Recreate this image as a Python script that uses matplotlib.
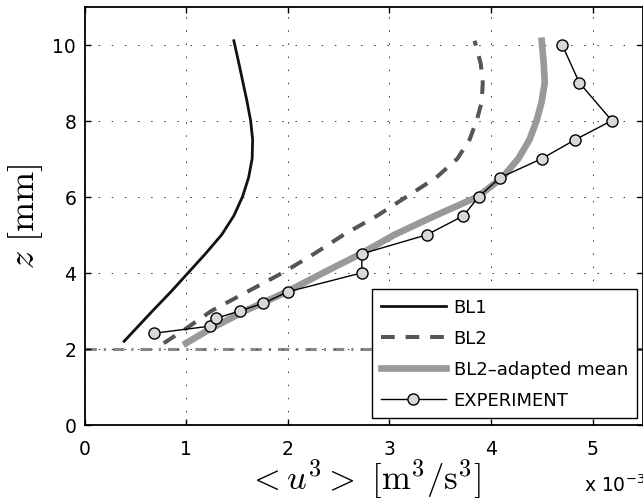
import numpy as np
import matplotlib
matplotlib.use("Agg")
import matplotlib.pyplot as plt

# profiles, x in units of 1e-3 m^3/s^3, z in mm
bl1_z = [2.2, 2.6, 3.0, 3.5, 4.0, 4.5, 5.0, 5.5, 6.0, 6.5, 7.0, 7.5, 8.0, 8.5, 9.0, 9.5, 10.1]
bl1_u = [0.39, 0.53, 0.67, 0.85, 1.02, 1.19, 1.35, 1.47, 1.555, 1.615, 1.65, 1.655, 1.635, 1.60, 1.56, 1.52, 1.47]

bl2_z = [2.15, 2.5, 3.0, 3.5, 4.0, 4.5, 5.0, 5.5, 6.0, 6.5, 7.0, 7.5, 8.0, 8.5, 9.0, 9.5, 10.1]
bl2_u = [0.78, 0.98, 1.25, 1.60, 1.95, 2.26, 2.55, 2.88, 3.17, 3.46, 3.67, 3.79, 3.86, 3.91, 3.92, 3.90, 3.84]

mean_z = [2.15, 2.5, 3.0, 3.5, 4.0, 4.5, 5.0, 5.5, 6.0, 6.5, 7.0, 7.5, 8.0, 8.5, 9.0, 9.5, 10.1]
mean_u = [1.0, 1.22, 1.58, 1.99, 2.35, 2.72, 3.05, 3.45, 3.87, 4.11, 4.27, 4.38, 4.45, 4.50, 4.53, 4.52, 4.50]

exp_z = [2.41, 2.6, 2.8, 3.0, 3.2, 3.5, 4.0, 4.5, 5.0, 5.5, 6.0, 6.5, 7.0, 7.5, 8.0, 9.0, 10.0]
exp_u = [0.68, 1.24, 1.29, 1.53, 1.76, 2.0, 2.73, 2.73, 3.37, 3.73, 3.88, 4.09, 4.5, 4.83, 5.19, 4.87, 4.7]

plt.rcParams['mathtext.fontset'] = 'cm'
plt.rcParams['font.family'] = 'DejaVu Sans'

W, H = 643, 502
fig = plt.figure(figsize=(W / 100, H / 100), dpi=100)
x0, x1 = 84.5, 643.3
y0, y1 = 426, 7.5
ax = fig.add_axes([x0 / W, (H - y0) / H, (x1 - x0) / W, (y0 - y1) / H])
ax.set_xlim(0, 5.5)
ax.set_ylim(0, 11)

ax.axhline(2, color='#888888', lw=2.2, linestyle=(0, (3.7, 2.3, 0.7, 2.3)), zorder=1)
ax.plot(bl1_u, bl1_z, color='#111111', lw=2, label='BL1', zorder=3)
ax.plot(bl2_u, bl2_z, color='#555555', lw=2.9, dashes=(3.4, 2.7), label='BL2', zorder=3)
ax.plot(mean_u, mean_z, color='#999999', lw=4.8, label='BL2\u2013adapted mean', zorder=2)
ax.plot(exp_u, exp_z, color='black', lw=1, marker='o', ms=8, mfc='#d8d8d8', mec='black',
        mew=1, label='EXPERIMENT', zorder=4)

ax.set_xticks(range(6))
ax.set_yticks(range(0, 11, 2))
ax.tick_params(direction='in', top=True, right=True, labelsize=13.5, length=4.3, width=1)
ax.tick_params(axis='x', pad=10)
ax.tick_params(axis='y', pad=6)
ax.grid(True, linestyle=(0, (1.5, 12)), color='#333333', lw=0.7)
for s in ax.spines.values():
    s.set_linewidth(1.3)

ax.set_xlabel(r'$< u^3 >\ [\mathrm{m}^3/\mathrm{s}^3]$', fontsize=25, labelpad=-1)
ax.set_ylabel(r'$z\ [\mathrm{mm}]$', fontsize=26, labelpad=5)
fig.text(584 / W, 1 - 492 / H, r'x 10$^{-3}$', fontsize=13.5, math_fontfamily='dejavusans',
         ha='left', va='baseline')

leg = ax.legend(loc='lower right', bbox_to_anchor=(637 / W, 1 - 419 / H),
                bbox_transform=fig.transFigure, fontsize=13, fancybox=False,
                framealpha=1, edgecolor='black', handlelength=3.6, handletextpad=0.45,
                borderaxespad=0, labelspacing=0.72, borderpad=0.5)
leg.get_frame().set_linewidth(1.0)

fig.savefig('out.png', dpi=100)
